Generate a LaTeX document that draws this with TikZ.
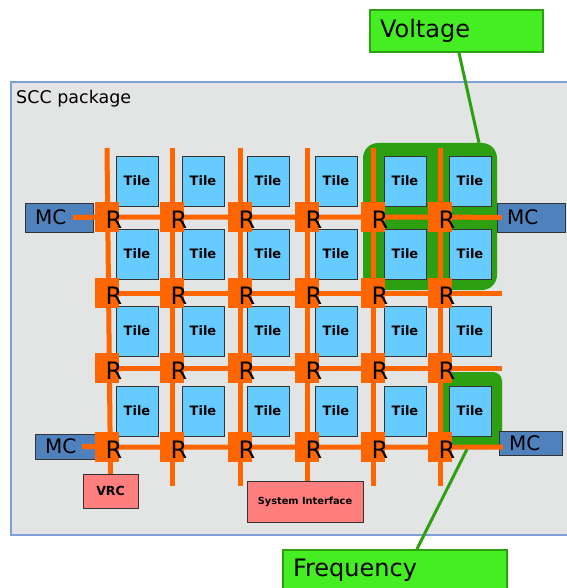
\documentclass[tikz,border=0pt]{standalone}
\usepackage{fontspec}
\setmainfont{DejaVu Sans}
\definecolor{pkggray}{HTML}{E3E4E4}
\definecolor{pkgline}{HTML}{7F9FD8}
\definecolor{noc}{HTML}{FF6600}
\definecolor{tileblue}{HTML}{66CCFF}
\definecolor{mcblue}{HTML}{4F81BD}
\definecolor{iosalmon}{HTML}{FF7F7F}
\definecolor{domgreen}{HTML}{2CA010}
\definecolor{lblgreen}{HTML}{44EE22}
\pgfdeclarelayer{pkg}
\pgfdeclarelayer{wires}
\pgfsetlayers{pkg,wires,main}
\newcommand{\fs}[1]{\fontsize{#1}{#1}\selectfont}
\tikzset{
  tile/.style={draw=black!80,fill=tileblue,minimum width=42pt,minimum height=50pt,font=\fs{13}\bfseries},
  router/.style={fill=noc,minimum width=24pt,minimum height=30pt,inner sep=0},
  rlabel/.style={anchor=base,inner sep=0,font=\fs{24}},
  mcbox/.style={draw=black!80,fill=mcblue,align=left,inner xsep=10pt,inner ysep=0,font=\fs{20}},
  iobox/.style={draw=black!80,fill=iosalmon,inner sep=0},
  wire/.style={noc,line width=5pt},
  vfzone/.style={fill=domgreen,inner sep=0},
  callout/.style={draw=domgreen,line width=2pt,fill=lblgreen,align=left,inner xsep=10pt,inner ysep=9pt,font=\fs{24}},
  callline/.style={domgreen,line width=3pt}
}
\begin{document}
\begin{tikzpicture}[x=1pt,y=-1pt]
\useasboundingbox (0,0) rectangle (566,588);
\begin{pgfonlayer}{pkg}
\fill[pkggray] (11,82) rectangle (575,535);
\draw[pkgline,line width=1.5pt] (575,82) -- (11,82) -- (11,535) -- (575,535);
\node[vfzone,rounded corners=15pt,minimum width=134pt,minimum height=147pt] (vdom) at (430,216.5) {};
\node[vfzone,rounded corners=9pt,minimum width=62pt,minimum height=77pt] (fdom) at (471,410.5) {};
\node[mcbox,text width=48pt,minimum height=29pt] (mcl1) at (59,217.5) {MC};
\node[mcbox,text width=48pt,minimum height=29pt] (mcr1) at (531,217.5) {MC};
\node[mcbox,text width=40pt,minimum height=25pt] (mcl4) at (65,446.5) {MC};
\node[mcbox,text width=43pt,minimum height=24pt] (mcr4) at (530.5,443) {MC};
\end{pgfonlayer}
\node[anchor=base west,inner sep=0,font=\fs{17.5}] (pkgname) at (16,104) {SCC package};

\foreach \c/\x in {1/137,2/203,3/268,4/336,5/405,6/470}
  \foreach \r/\y in {1/181,2/254,3/331,4/411}
    \node[tile] (t\r\c) at (\x,\y) {Tile};
\foreach \c/\x in {1/107,2/172,3/240,4/307,5/373,6/440}
  \foreach \r/\y in {1/217,2/293,3/368,4/447}{
    \node[router] (r\r\c) at (\x,\y) {};
    \node[rlabel] (rl\r\c) at ([xshift=7pt,yshift=-11pt]r\r\c.center) {R};
  }
\node[iobox,minimum width=55pt,minimum height=34pt,font=\fs{12.5}\bfseries] (vrc) at (110.5,491) {VRC};
\node[iobox,minimum width=116pt,minimum height=41pt,font=\fs{9.8}\bfseries] (sysif) at (305,501.5) {System Interface};

\begin{pgfonlayer}{wires}
\draw[wire] ([yshift=69pt]r11.center) -- (vrc.north);
\foreach \c in {2,...,6}
  \draw[wire] ([yshift=69pt]r1\c.center) -- ([yshift=-39pt]r4\c.center);
\draw[wire] ([xshift=-20pt]mcl1.east) -- (r11) -- (r16) -- ([xshift=5pt]mcr1.west);
\foreach \r in {2,3}
  \draw[wire] ([xshift=-12pt]r\r1.center) -- ([xshift=62pt]r\r6.center);
\draw[wire] ([xshift=-13pt]mcl4.east) -- (r41) -- (r46) -- ([xshift=4pt,yshift=-4pt]mcr4.west);
\end{pgfonlayer}

\node[callout,text width=153pt,minimum height=42pt] (volt) at (456.5,31) {Voltage};
\node[callout,anchor=north west,text width=204pt,text depth=40pt] (freq) at (282,549) {Frequency};
\draw[callline] ([xshift=2.5pt]volt.south) -- ([xshift=49pt]vdom.north);
\draw[callline] ([xshift=22pt]freq.north) -- ([xshift=-4pt]fdom.south);
\end{tikzpicture}
\end{document}
